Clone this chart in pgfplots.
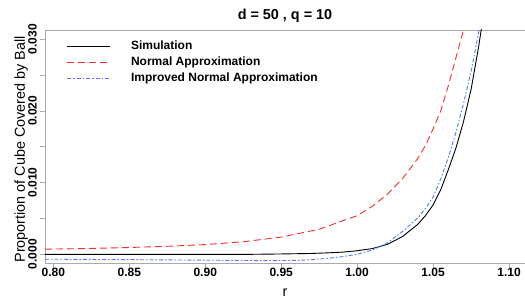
\documentclass[border=0pt]{standalone}
\usepackage{pgfplots}
\pgfplotsset{compat=1.18}
\usepackage{fontspec}
\setmainfont{Liberation Sans}
\definecolor{axgray}{RGB}{170,170,170}
\definecolor{myred}{RGB}{245,45,45}
\definecolor{myblue}{RGB}{80,120,255}
\begin{document}
\begin{tikzpicture}
\begin{axis}[
  at={(0,0)}, anchor=south west,
  scale only axis, width=480pt, height=233pt,
  xmin=0.7945, xmax=1.1105, ymin=-0.00121, ymax=0.0313,
  scaled y ticks=false, scaled x ticks=false,
  axis x line*=box, axis y line*=left,
  axis line style={axgray, line width=0.8pt},
  xtick pos=bottom, ytick pos=left,
  tick align=outside, major tick length=5pt,
  every tick/.style={axgray, line width=0.8pt},
  xtick={0.80,0.85,0.90,0.95,1.00,1.05,1.10},
  xticklabels={0.80,0.85,0.90,0.95,1.00,1.05,1.10},
  ytick={0,0.005,0.010,0.015,0.020,0.025,0.030},
  yticklabels={0.000,,0.010,,0.020,,0.030},
  xticklabel style={font=\bfseries\fontsize{12}{12}\selectfont, anchor=north, inner sep=0pt},
  yticklabel style={font=\bfseries\fontsize{12}{12}\selectfont, xshift=-3pt, rotate=90, anchor=south, inner sep=0pt},
  title={d = 50 , q = 10},
  title style={font=\bfseries\fontsize{14.4}{14.4}\selectfont, at={(axis description cs:0.5,1)}, anchor=base, yshift=4.5pt, inner sep=0pt},
  xlabel={r},
  xlabel style={font=\fontsize{14.4}{14.4}\selectfont, at={(axis description cs:0.5,0)}, anchor=base, yshift=-34pt, inner sep=0pt},
  ylabel={Proportion of Cube Covered by Ball},
  ylabel style={font=\fontsize{14.4}{14.4}\selectfont, at={(axis description cs:-0.0417,0.488)}, anchor=base, inner sep=0pt},
  legend style={draw=none, fill=none, at={(axis description cs:0.045,0.955)}, anchor=north west,
    inner sep=0pt, outer sep=0pt, row sep=3.3pt,
    font=\bfseries\fontsize{12}{12}\selectfont,
    nodes={inner sep=0pt, text height=9.5pt, text depth=3pt}},
  legend cell align=left,
  legend image code/.code={\draw[#1] (0pt,0pt) -- (43pt,0pt); \path[draw=none] (0pt,0pt) -- (64pt,0pt);},
]
\addplot[black, line width=0.9pt] coordinates {
(0.7945,0) (0.85,0) (0.90,0) (0.93,0) (0.95,0.00005) (0.97,0.00012) (0.98,0.0002) (0.99,0.0003)
(1.00,0.0005) (1.01,0.0008) (1.02,0.0014) (1.03,0.0025) (1.04,0.0042) (1.045,0.0054)
(1.05,0.0069) (1.055,0.0090) (1.06,0.0118) (1.065,0.0148) (1.07,0.0185) (1.075,0.0230)
(1.08,0.0290) (1.0825,0.0325)
};
\addlegendentry{Simulation}
\addplot[myred, line width=0.9pt, dash pattern=on 7pt off 4pt] coordinates {
(0.7945,0.00072) (0.82,0.00080) (0.85,0.00095) (0.875,0.00112) (0.90,0.00136) (0.925,0.00175)
(0.95,0.0024) (0.975,0.0035) (1.00,0.0054) (1.01,0.0067) (1.02,0.0084) (1.03,0.0106)
(1.04,0.0134) (1.045,0.0152) (1.05,0.0175) (1.055,0.0200) (1.06,0.0235) (1.065,0.0274)
(1.07,0.0313) (1.072,0.0335)
};
\addlegendentry{Normal Approximation}
\addplot[myblue, line width=0.9pt, dash pattern=on 4pt off 2pt on 1.5pt off 2pt] coordinates {
(0.7945,-0.00068) (0.85,-0.00074) (0.90,-0.00082) (0.94,-0.00088) (0.96,-0.00085) (0.97,-0.00075)
(0.98,-0.00058) (0.99,-0.00033) (1.00,0.0000) (1.01,0.0006) (1.02,0.0016) (1.03,0.0032)
(1.04,0.0051) (1.045,0.0064) (1.05,0.0080) (1.055,0.0105) (1.06,0.0135) (1.065,0.0170)
(1.07,0.0210) (1.075,0.0255) (1.08,0.0310) (1.0825,0.0340)
};
\addlegendentry{Improved Normal Approximation}
\end{axis}
\pgfresetboundingbox
\path[use as bounding box] (-45pt,-36pt) rectangle (480pt,263pt);
\end{tikzpicture}
\end{document}
